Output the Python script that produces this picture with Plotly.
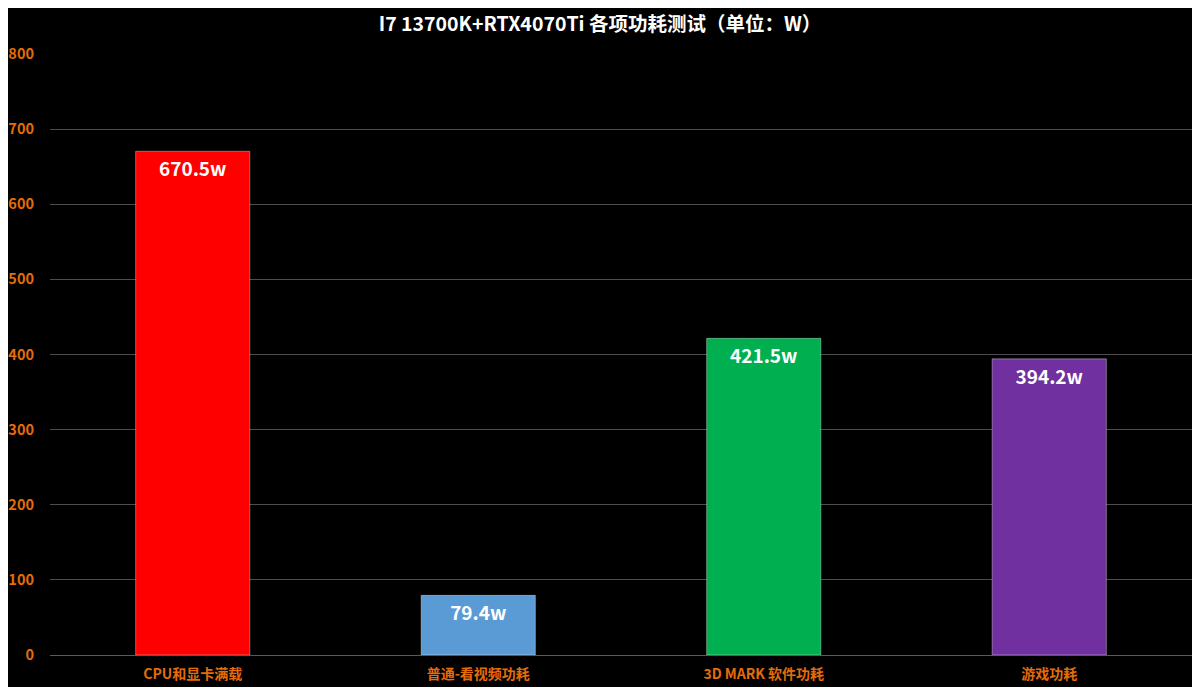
import plotly.graph_objects as go

# chart data
categories = ["CPU和显卡满载", "普通-看视频功耗", "3D MARK 软件功耗", "游戏功耗"]
power_w = [670.5, 79.4, 421.5, 394.2]
bar_colors = ["#FF0000", "#5B9BD5", "#00B050", "#7030A0"]
y_ticks = [0, 100, 200, 300, 400, 500, 600, 700, 800]

FONT = "Noto Sans CJK SC"
ORANGE = "#E46C0A"

fig = go.Figure(
    go.Bar(
        x=categories,
        y=power_w,
        width=0.4,
        marker=dict(color=bar_colors, line=dict(color="rgba(255,255,255,0.35)", width=1)),
        text=[f"{v}w" for v in power_w],
        textposition="inside",
        insidetextanchor="end",
        textangle=0,
        textfont=dict(family=FONT, size=19, color="white", weight="bold"),
        cliponaxis=False,
    )
)

# the page body has an 8px margin, so the figure starts 8px in from the window corner
fig.update_layout(
    width=1184, height=679,
    paper_bgcolor="black", plot_bgcolor="black",
    margin=dict(l=42, r=0, t=46, b=32),
    showlegend=False,
    title=dict(text="<b>I7 13700K+RTX4070Ti 各项功耗测试（单位：W）</b>",
               x=0.5, xanchor="center", y=1 - 16 / 679, yref="container", yanchor="middle",
               font=dict(family=FONT, size=19.5, color="white")),
    xaxis=dict(showgrid=False, showline=False, automargin=False,
               tickfont=dict(family=FONT, size=14, color=ORANGE, weight="bold"),
               ticks="", ticklabelstandoff=9),
    yaxis=dict(range=[0, 800], tickvals=y_ticks, gridcolor="#4d4d4d", gridwidth=1,
               zeroline=True, zerolinecolor="#5a5a5a", zerolinewidth=1, automargin=False,
               tickfont=dict(family=FONT, size=14.5, color=ORANGE, weight="bold"),
               ticklabelstandoff=15, ticks=""),
    bargap=0.6,
)

fig.write_html("out.html")
